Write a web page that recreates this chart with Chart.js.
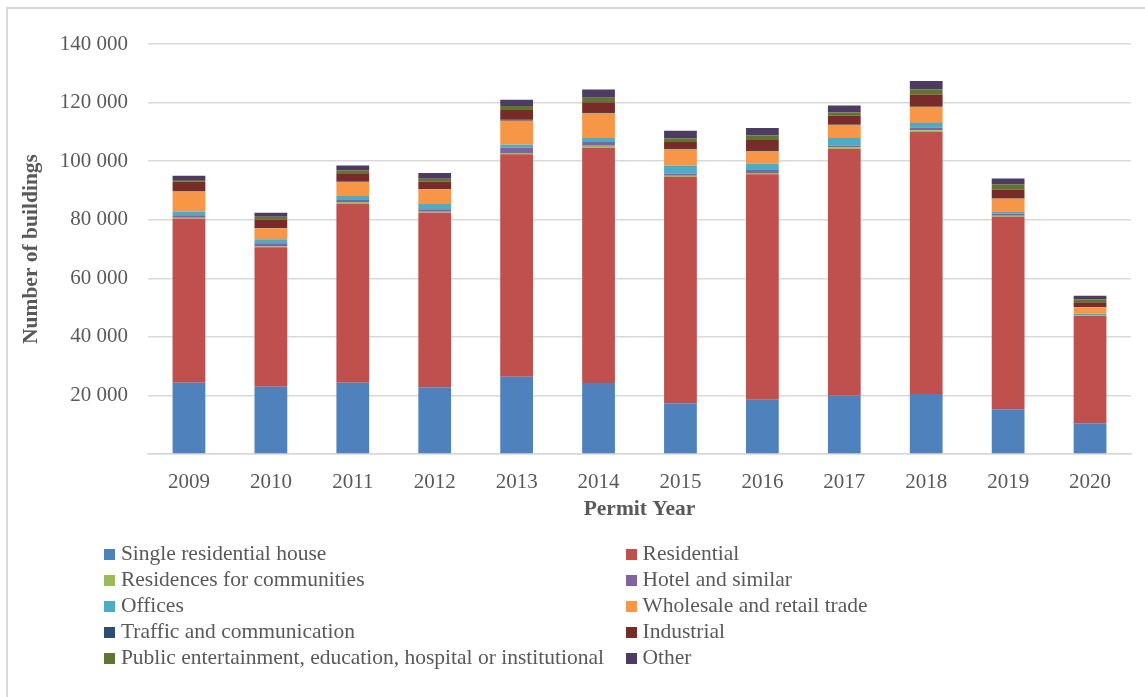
<!DOCTYPE html>
<html>
<head>
<meta charset="utf-8">
<title>Building permits by type</title>
<script src="https://cdn.jsdelivr.net/npm/chart.js@4/dist/chart.umd.min.js"></script>
<style>
  body { margin: 0; background: #fff; }
  #wrap { position: relative; width: 1145px; height: 697px; overflow: hidden; }
  #frame { position: absolute; left: 6px; top: 7px; width: 1200px; height: 760px;
           border: 2px solid #d9d9d9; box-sizing: border-box; }
  #myChart { position: absolute; left: 0; top: 0; }
  #legend { position: absolute; left: 104px; top: 540px; display: grid;
            grid-template-columns: 521.7px auto; font-family: 'Liberation Serif', 'Times New Roman', serif;
            font-size: 21.5px; color: #595959; }
  #legend .item { height: 26px; line-height: 26px; white-space: nowrap; }
  #legend .box { display: inline-block; width: 11.4px; height: 11.4px; margin-right: 5.5px; vertical-align: 0px; }
</style>
</head>
<body>
<div id="wrap">
  <div id="frame"></div>
  <canvas id="myChart" width="1145" height="697"></canvas>
  <div id="legend"></div>
</div>
<script>
  // Aantal bouwvergunningen per jaar, per type gebouw
  const years = ['2009', '2010', '2011', '2012', '2013', '2014', '2015', '2016', '2017', '2018', '2019', '2020'];

  const singleHouse = [24350, 23000, 24350, 22770, 26400, 24250, 17300, 18550, 19900, 20490, 15260, 10480];
  const residential = [56000, 47600, 61100, 59650, 75940, 80350, 77300, 76950, 84260, 89470, 65680, 36650];
  const communities = [300, 250, 600, 340, 450, 650, 450, 450, 550, 550, 450, 150];
  const hotel = [900, 1100, 680, 800, 1800, 1250, 680, 1020, 570, 910, 680, 200];
  const offices = [1250, 1370, 1370, 1820, 1020, 1370, 2730, 2160, 2620, 1590, 570, 450];
  const wholesale = [6830, 3760, 4780, 5000, 8200, 8540, 5700, 4330, 4440, 5460, 4550, 2160];
  const traffic = [150, 120, 150, 150, 340, 340, 340, 340, 200, 200, 150, 100];
  const industrial = [3190, 2850, 2850, 2500, 3300, 3400, 2050, 3400, 2960, 4100, 2960, 1590];
  const publicInst = [600, 1000, 1000, 1000, 1370, 1480, 1250, 1590, 1140, 1710, 1820, 1020];
  const other = [1480, 1370, 1600, 1940, 2160, 2800, 2620, 2500, 2390, 2850, 1940, 1250];

  const seriesNames = [
    'Single residential house', 'Residential', 'Residences for communities', 'Hotel and similar',
    'Offices', 'Wholesale and retail trade', 'Traffic and communication', 'Industrial',
    'Public entertainment, education, hospital or institutional', 'Other'
  ];
  const seriesValues = [singleHouse, residential, communities, hotel, offices, wholesale, traffic, industrial, publicInst, other];
  const seriesColors = ['#4F81BD', '#C0504D', '#9BBB59', '#8064A2', '#4BACC6', '#F79646', '#2C4D75', '#772C2A', '#5F7530', '#4D3B62'];

  const yTicks = [0, 20000, 40000, 60000, 80000, 100000, 120000, 140000];

  const serif = "'Liberation Serif', 'Times New Roman', serif";
  const grey = '#595959';
  const gridGrey = '#d9d9d9';

  // Duizendtallen met een spatie, zoals "140 000"; nul blijft leeg
  function formatTick(value) {
    if (value === 0) return '';
    return String(value).replace(/\B(?=(\d{3})+(?!\d))/g, ' ');
  }

  // Legenda in twee kolommen als HTML onder de grafiek
  const htmlLegend = {
    id: 'htmlLegend',
    afterUpdate(chart) {
      const box = document.getElementById('legend');
      box.innerHTML = '';
      chart.data.datasets.forEach(ds => {
        const item = document.createElement('div');
        item.className = 'item';
        const swatch = document.createElement('span');
        swatch.className = 'box';
        swatch.style.background = ds.backgroundColor;
        item.appendChild(swatch);
        item.appendChild(document.createTextNode(ds.label));
        box.appendChild(item);
      });
    }
  };

  function createChart(ctx) {
    const datasets = seriesNames.map((name, i) => ({
      label: name,
      data: seriesValues[i],
      backgroundColor: seriesColors[i],
      borderWidth: 0,
      categoryPercentage: 1.0,
      barPercentage: 0.4
    }));

    return new Chart(ctx, {
      type: 'bar',
      data: { labels: years, datasets: datasets },
      plugins: [htmlLegend],
      options: {
        responsive: false,
        animation: false,
        devicePixelRatio: 1,
        layout: { padding: { left: 10, top: 44, right: 14, bottom: 175 } },
        plugins: {
          legend: { display: false },
          tooltip: { enabled: false }
        },
        scales: {
          x: {
            stacked: true,
            grid: { display: false, drawTicks: false },
            border: { display: true, color: gridGrey, width: 1.5 },
            ticks: { color: grey, font: { family: serif, size: 21 }, padding: 16 },
            title: {
              display: true,
              text: 'Permit Year',
              color: grey,
              font: { family: serif, size: 21.5, weight: 'bold' },
              padding: { top: 0, bottom: 0 }
            },
            afterFit(scale) { scale.height = 68; }
          },
          y: {
            stacked: true,
            min: 0,
            max: 140000,
            afterBuildTicks(scale) { scale.ticks = yTicks.map(v => ({ value: v })); },
            grid: { color: gridGrey, lineWidth: 1.5, drawTicks: false },
            border: { display: false },
            ticks: { color: grey, font: { family: serif, size: 21 }, padding: 20, callback: formatTick },
            title: {
              display: true,
              text: 'Number of buildings',
              color: grey,
              font: { family: serif, size: 21.5, weight: 'bold' },
              padding: { top: 9, bottom: 0 }
            },
            afterFit(scale) { scale.width = 138; }
          }
        }
      }
    });
  }

  window.addEventListener('DOMContentLoaded', () => {
    const ctx = document.getElementById('myChart').getContext('2d');
    createChart(ctx);
  });
</script>
</body>
</html>
